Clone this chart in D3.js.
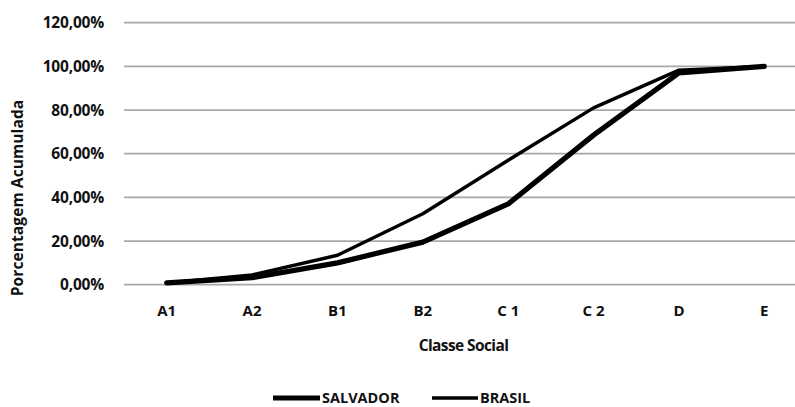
<!DOCTYPE html>
<html>
<head>
<meta charset="utf-8">
<script src="https://cdn.jsdelivr.net/npm/d3@7"></script>
<style>
  html, body { margin: 0; padding: 0; background: #fff; }
  svg { display: block; }
  text { font-family: "Open Sans", "Liberation Sans", sans-serif; fill: #111; }
</style>
</head>
<body>
<svg id="chart" width="795" height="407"></svg>
<script>
const categories = ["A1", "A2", "B1", "B2", "C 1", "C 2", "D", "E"];
const salvador = [0.8, 3.2, 10, 19.5, 37, 68.5, 97, 100];
const brasil = [0.8, 4.5, 13.5, 32.5, 57, 81, 98.3, 100];
const yTicks = [0, 20, 40, 60, 80, 100, 120];
const seriesNames = ["SALVADOR", "BRASIL"];

const svg = d3.select("#chart");
const plot = { left: 124, right: 807, top: 22.7, bottom: 284.7 };

const x = d3.scaleBand().domain(categories).range([plot.left, plot.right]);
const y = d3.scaleLinear().domain([0, 120]).range([plot.bottom, plot.top]);

// gridlines
svg.append("g")
  .selectAll("line")
  .data(yTicks)
  .join("line")
  .attr("x1", plot.left).attr("x2", plot.right)
  .attr("y1", d => y(d)).attr("y2", d => y(d))
  .attr("stroke", "#a8a8a8").attr("stroke-width", 1.8);

// y axis labels
const fmt = v => d3.format(".2f")(v).replace(".", ",") + "%";
const yAxis = svg.append("g").attr("transform", `translate(${plot.left - 20},0)`)
  .call(d3.axisLeft(y).tickValues(yTicks).tickFormat(fmt).tickSize(0).tickPadding(0));
yAxis.select(".domain").remove();
yAxis.selectAll("text")
  .attr("font-family", "Open Sans, sans-serif")
  .attr("font-size", 15.5).attr("font-weight", 700).attr("fill", "#111")
  .attr("letter-spacing", -0.2);

// x axis labels
const xAxis = svg.append("g").attr("transform", `translate(0,${plot.bottom})`)
  .call(d3.axisBottom(x).tickSize(0).tickPadding(0));
xAxis.select(".domain").remove();
xAxis.selectAll("text")
  .attr("font-family", "Open Sans, sans-serif")
  .attr("font-size", 15).attr("font-weight", 700).attr("fill", "#111")
  .attr("dy", null).attr("y", 31);

// axis titles
svg.append("text")
  .attr("x", (plot.left + plot.right) / 2 - 2).attr("y", 351)
  .attr("text-anchor", "middle")
  .attr("font-size", 15.5).attr("font-weight", 700)
  .attr("letter-spacing", -0.6)
  .text("Classe Social");

svg.append("text")
  .attr("transform", "translate(23,198) rotate(-90)")
  .attr("text-anchor", "middle")
  .attr("font-size", 15.5).attr("font-weight", 700)
  .attr("letter-spacing", 0.1)
  .text("Porcentagem Acumulada");

// lines
const line = d3.line()
  .x((d, i) => x(categories[i]) + x.bandwidth() / 2)
  .y(d => y(d));

svg.append("path").datum(brasil)
  .attr("d", line).attr("fill", "none")
  .attr("stroke", "#000").attr("stroke-width", 3.4)
  .attr("stroke-linejoin", "round").attr("stroke-linecap", "round");

svg.append("path").datum(salvador)
  .attr("d", line).attr("fill", "none")
  .attr("stroke", "#000").attr("stroke-width", 5.2)
  .attr("stroke-linejoin", "round").attr("stroke-linecap", "round");

// legend
const legend = svg.append("g").attr("transform", "translate(0,398)");
const legendItems = [
  { name: seriesNames[0], x0: 273, x1: 320, w: 5.2 },
  { name: seriesNames[1], x0: 432, x1: 478, w: 3.4 }
];
legendItems.forEach(it => {
  legend.append("line")
    .attr("x1", it.x0).attr("x2", it.x1).attr("y1", 0).attr("y2", 0)
    .attr("stroke", "#000").attr("stroke-width", it.w);
  legend.append("text")
    .attr("x", it.x1 + 2).attr("y", 0).attr("dy", "0.36em")
    .attr("font-size", 14.5).attr("font-weight", 700)
    .attr("letter-spacing", 0)
    .text(it.name);
});
</script>
</body>
</html>
